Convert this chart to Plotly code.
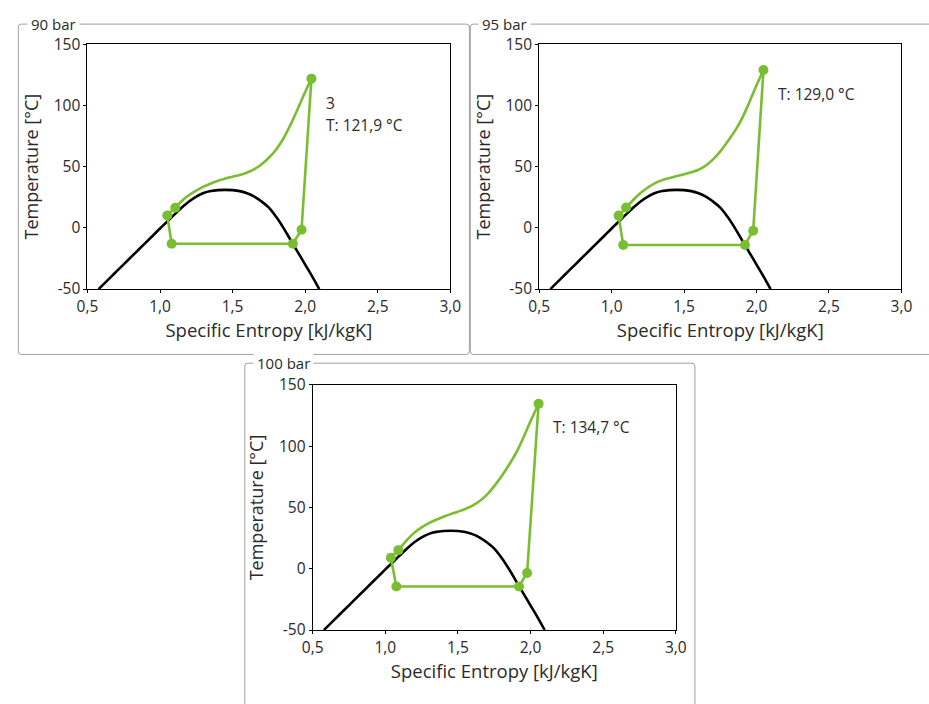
import plotly.graph_objects as go

W, H = 929, 704

# ---------------- data ----------------
# saturation dome (identical in all three panels)
dome_s = [0.577, 0.65, 0.70, 0.75, 0.80, 0.85, 0.90, 0.95, 1.00, 1.05, 1.10, 1.15, 1.20, 1.25,
          1.30, 1.35, 1.40, 1.45, 1.50, 1.55, 1.60, 1.65, 1.70, 1.75, 1.80, 1.85, 1.90,
          1.95, 2.00, 2.05, 2.097]
dome_T = [-50, -41.5, -35.6, -29.8, -23.9, -18.1, -12.2, -6.4, -0.5, 5.2, 11, 16.6, 21.6, 25.6,
          28.5, 30.1, 30.8, 31, 30.8, 30, 28.3, 25.5, 21.5, 16.5, 9, 0, -10,
          -20, -30, -40, -50]

panel_titles = ["90 bar", "95 bar", "100 bar"]
annot_lines = [["3", "T: 121,9 °C"], ["T: 129,0 °C"], ["T: 134,7 °C"]]
annot_s = [2.132, 2.137, 2.14]
annot_T = [102, 109, 116]

# cycle state points: compressor outlet, gas cooler outlet, IHX outlet,
# expansion outlet, evaporator outlet, IHX suction outlet
p1_state_s = [2.043, 1.105, 1.05, 1.08, 1.915, 1.975]
p1_state_T = [121.9, 16.4, 10.1, -13.0, -13.0, -1.5]
p2_state_s = [2.048, 1.10, 1.048, 1.08, 1.92, 1.977]
p2_state_T = [129.0, 16.6, 10.0, -14.0, -14.0, -2.3]
p3_state_s = [2.055, 1.09, 1.038, 1.076, 1.92, 1.976]
p3_state_T = [134.7, 15.2, 9.0, -14.4, -14.4, -3.4]

# gas cooler curves (from compressor outlet down to gas cooler outlet)
p1_gc_s = [2.043, 2.00, 1.95, 1.90, 1.85, 1.80, 1.75, 1.70, 1.65, 1.60, 1.55, 1.50, 1.45,
           1.40, 1.35, 1.30, 1.25, 1.20, 1.15, 1.105]
p1_gc_T = [121.9, 111, 97.5, 84.5, 73, 64, 57.3, 52, 48, 45.2, 43.2, 41.8, 40.3,
           38.5, 36.3, 33.7, 30.5, 26.8, 22, 16.4]
p2_gc_s = [2.048, 2.00, 1.95, 1.90, 1.85, 1.80, 1.75, 1.70, 1.65, 1.60, 1.55, 1.50, 1.45,
           1.40, 1.35, 1.30, 1.25, 1.20, 1.15, 1.10]
p2_gc_T = [129.0, 116.5, 102.5, 89.5, 79, 70.5, 62.5, 56, 51, 47.5, 45.5, 43.8, 42.4,
           40.8, 39, 36.6, 33, 28.5, 23, 16.6]
p3_gc_s = [2.055, 2.00, 1.95, 1.90, 1.85, 1.80, 1.75, 1.70, 1.65, 1.60, 1.55, 1.50, 1.45,
           1.40, 1.35, 1.30, 1.25, 1.20, 1.15, 1.09]
p3_gc_T = [134.7, 120.5, 107, 94.5, 84.5, 75.5, 67.5, 60.5, 55.3, 51.5, 48.8, 46.6, 44.6,
           42.4, 40, 37.2, 33.8, 29.5, 23.5, 15.2]

x_tickvals = [0.5, 1.0, 1.5, 2.0, 2.5, 3.0]
x_ticktext = ["0,5", "1,0", "1,5", "2,0", "2,5", "3,0"]
y_tickvals = [-50, 0, 50, 100, 150]
y_ticktext = ["-50", "0", "50", "100", "150"]

states_s = [p1_state_s, p2_state_s, p3_state_s]
states_T = [p1_state_T, p2_state_T, p3_state_T]
gcs_s = [p1_gc_s, p2_gc_s, p3_gc_s]
gcs_T = [p1_gc_T, p2_gc_T, p3_gc_T]

# ---------------- style ----------------
GREEN = "#79BE30"
FONT = "Open Sans"
TXT = "#2a2a2a"
LINE_GAP = 22  # px between annotation lines


def px(x):
    return x / W


def py(y):
    return 1 - y / H


# plot areas in pixels: (left, right, top, bottom)
areas = [(78.3, 450, 33.3, 286), (541, 912, 33.3, 286), (309, 681, 385, 638)]
# group boxes in pixels
boxes = [(7.5, 469.5, 12.5, 353.5), (470.5, 945, 12.5, 353.5), (239.5, 700.5, 362.5, 720)]
box_labels_x = [16, 478, 248]

fig = go.Figure()
layout = dict(
    width=W, height=H, autosize=False,
    margin=dict(l=0, r=0, t=0, b=0),
    paper_bgcolor="white", plot_bgcolor="white",
    showlegend=False,
    font=dict(family=FONT, size=14, color=TXT),
)

shapes = []
annotations = []
for i in range(3):
    sfx = "" if i == 0 else str(i + 1)
    xa, ya = "x" + sfx, "y" + sfx
    l, r, t, b = areas[i]
    layout["xaxis" + sfx] = dict(
        domain=[px(l), px(r)], anchor=ya, range=[0.5, 3.0],
        tickvals=x_tickvals, ticktext=x_ticktext,
        showgrid=False, zeroline=False, showline=True, mirror=True,
        linecolor="black", linewidth=1, ticks="outside", ticklen=3, tickcolor="black",
        tickfont=dict(size=15.5, color=TXT),
        title=dict(text="Specific Entropy [kJ/kgK]", font=dict(size=18.5, color=TXT), standoff=7),
    )
    layout["yaxis" + sfx] = dict(
        domain=[py(b), py(t)], anchor=xa, range=[-50, 150],
        tickvals=y_tickvals, ticktext=y_ticktext,
        showgrid=False, zeroline=False, showline=True, mirror=True,
        linecolor="black", linewidth=1, ticks="outside", ticklen=3, tickcolor="black",
        tickfont=dict(size=15.5, color=TXT),
        title=dict(text="Temperature [°C]", font=dict(size=18, color=TXT), standoff=10),
    )

    # saturation dome
    fig.add_trace(go.Scatter(x=dome_s, y=dome_T, mode="lines", xaxis=xa, yaxis=ya,
                             line=dict(color="black", width=2.6, shape="spline", smoothing=1),
                             hoverinfo="skip"))
    # gas cooler curve
    fig.add_trace(go.Scatter(x=gcs_s[i], y=gcs_T[i], mode="lines", xaxis=xa, yaxis=ya,
                             line=dict(color=GREEN, width=2.6, shape="spline", smoothing=1),
                             hoverinfo="skip"))
    # straight process segments: gc out -> IHX -> expansion -> evaporator -> IHX -> compressor out
    st_s, st_T = states_s[i], states_T[i]
    seg_s = st_s[1:] + [st_s[0]]
    seg_T = st_T[1:] + [st_T[0]]
    fig.add_trace(go.Scatter(x=seg_s, y=seg_T, mode="lines+markers", xaxis=xa, yaxis=ya,
                             line=dict(color=GREEN, width=2.6),
                             marker=dict(color=GREEN, size=10),
                             hoverinfo="skip"))

    for k, line_text in enumerate(annot_lines[i]):
        annotations.append(dict(
            text=line_text, x=annot_s[i], y=annot_T[i], xref=xa, yref=ya,
            xanchor="left", yanchor="middle", align="left", showarrow=False,
            yshift=-LINE_GAP * k, font=dict(size=15.5, color=TXT),
        ))

    # group box
    bl, br, bt, bb = boxes[i]
    rr = 3
    path = (f"M {px(bl + rr)},{py(bt)} L {px(br - rr)},{py(bt)} "
            f"Q {px(br)},{py(bt)} {px(br)},{py(bt + rr)} "
            f"L {px(br)},{py(bb - rr)} Q {px(br)},{py(bb)} {px(br - rr)},{py(bb)} "
            f"L {px(bl + rr)},{py(bb)} Q {px(bl)},{py(bb)} {px(bl)},{py(bb - rr)} "
            f"L {px(bl)},{py(bt + rr)} Q {px(bl)},{py(bt)} {px(bl + rr)},{py(bt)} Z")
    shapes.append(dict(type="path", path=path, xref="paper", yref="paper",
                       line=dict(color="#a0a0a0", width=1), layer="below"))
    annotations.append(dict(
        text=panel_titles[i], x=px(box_labels_x[i]), y=py(bt), xref="paper", yref="paper",
        xanchor="left", yanchor="middle", showarrow=False, bgcolor="white",
        borderpad=3, font=dict(size=15, color=TXT),
    ))

layout["shapes"] = shapes
layout["annotations"] = annotations
fig.update_layout(**layout)

fig.write_html("out.html")
